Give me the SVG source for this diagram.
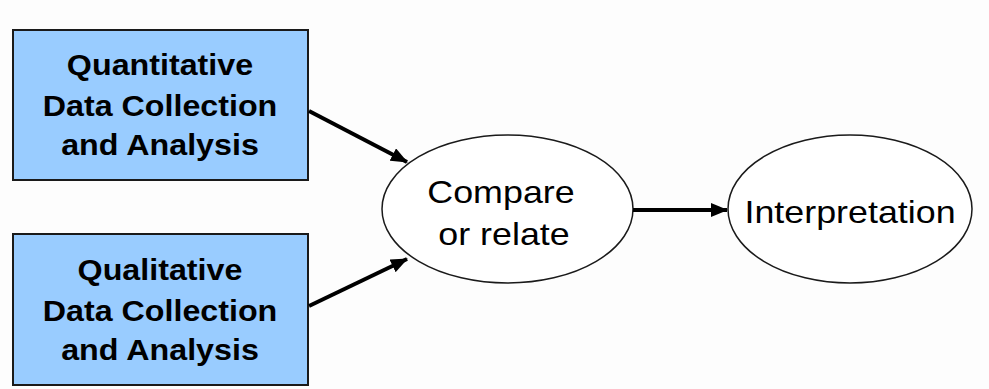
<svg xmlns="http://www.w3.org/2000/svg" width="989" height="389" viewBox="0 0 989 389">
  <style>
    .box { fill: #99ccff; stroke: #1a1a1a; stroke-width: 2; }
    .oval { fill: #ffffff; stroke: #1a1a1a; stroke-width: 1.5; }
    .bold { font-family: "Liberation Sans", Arial, sans-serif; font-weight: bold; font-size: 30px; fill: #000; text-anchor: middle; }
    .plain { font-family: "Liberation Sans", Arial, sans-serif; font-size: 32px; fill: #000; text-anchor: middle; }
    .edge { stroke: #000; stroke-width: 4; fill: none; marker-end: url(#head); }
  </style>
  <defs>
    <marker id="head" markerUnits="userSpaceOnUse" markerWidth="18" markerHeight="14" refX="16" refY="7" orient="auto">
      <path d="M0,0 L17,7 L0,14 Z" fill="#000"/>
    </marker>
  </defs>
  <rect width="989" height="389" fill="#fdfdfd"/>

  <!-- labels are drawn slightly wide -->
  <g id="quantitative">
    <rect class="box" x="13" y="30" width="295" height="150"/>
    <text class="bold" transform="translate(160,75) scale(1.075,1)">Quantitative</text>
    <text class="bold" transform="translate(160,116) scale(1.075,1)">Data Collection</text>
    <text class="bold" transform="translate(160,155) scale(1.075,1)">and Analysis</text>
  </g>

  <g id="qualitative">
    <rect class="box" x="13" y="234" width="295" height="151"/>
    <text class="bold" transform="translate(160,280) scale(1.075,1)">Qualitative</text>
    <text class="bold" transform="translate(160,321) scale(1.075,1)">Data Collection</text>
    <text class="bold" transform="translate(160,360) scale(1.075,1)">and Analysis</text>
  </g>

  <g id="compare">
    <ellipse class="oval" cx="507.5" cy="209" rx="125.5" ry="74"/>
    <text class="plain" transform="translate(501,203) scale(1.12,1)">Compare</text>
    <text class="plain" transform="translate(504,245) scale(1.12,1)">or relate</text>
  </g>

  <g id="interpretation">
    <ellipse class="oval" cx="850" cy="209" rx="122" ry="74"/>
    <text class="plain" transform="translate(850,223) scale(1.12,1)">Interpretation</text>
  </g>

  <g id="connectors">
    <line class="edge" x1="309" y1="111" x2="407" y2="162"/>
    <line class="edge" x1="309" y1="306" x2="407" y2="259"/>
    <line class="edge" x1="633" y1="210" x2="727" y2="210"/>
  </g>
</svg>
